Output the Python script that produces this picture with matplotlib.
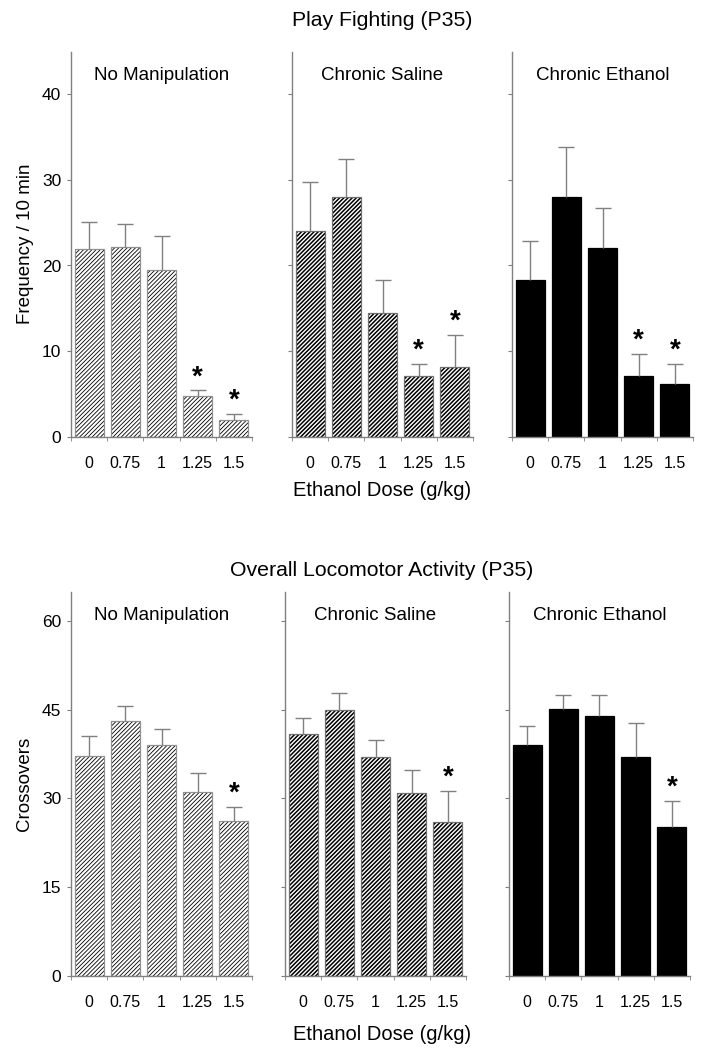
import numpy as np
import matplotlib
matplotlib.use('Agg')
import matplotlib.pyplot as plt

plt.rcParams['font.family'] = ['Liberation Sans', 'DejaVu Sans']

doses = ['0', '0.75', '1', '1.25', '1.5']
groups = ['No Manipulation', 'Chronic Saline', 'Chronic Ethanol']

# Play fighting (frequency / 10 min)
play_mean = [
    [21.9, 22.2, 19.5, 4.7, 2.0],
    [24.0, 28.0, 14.4, 7.1, 8.1],
    [18.3, 28.0, 22.1, 7.1, 6.2],
]
play_err = [
    [3.2, 2.7, 3.9, 0.7, 0.7],
    [5.8, 4.4, 3.9, 1.4, 3.8],
    [4.6, 5.9, 4.6, 2.6, 2.3],
]
play_sig = [
    [False, False, False, True, True],
    [False, False, False, True, True],
    [False, False, False, True, True],
]

# Locomotor activity (crossovers)
loco_mean = [
    [37.2, 43.1, 39.1, 31.1, 26.2],
    [40.9, 45.0, 37.1, 31.0, 26.1],
    [39.0, 45.1, 44.0, 37.1, 25.1],
]
loco_err = [
    [3.3, 2.6, 2.6, 3.2, 2.4],
    [2.7, 2.8, 2.8, 3.8, 5.2],
    [3.2, 2.4, 3.5, 5.7, 4.5],
]
loco_sig = [
    [False, False, False, False, True],
    [False, False, False, False, True],
    [False, False, False, False, True],
]

styles = [
    dict(color='white', hatch='////////', hatch_lw=0.6, edge='#909090'),
    dict(color='white', hatch='////////', hatch_lw=1.1, edge='#707070'),
    dict(color='black', hatch=None, hatch_lw=1.0, edge='black'),
]
gray = '#808080'

fig = plt.figure(figsize=(7.11, 10.5), dpi=100)


def draw_panel(ax, means, errs, sig, style, ylim, yticks, show_ylabels, title):
    x = np.arange(len(doses))
    means = np.array(means)
    errs = np.array(errs)
    plt.rcParams['hatch.linewidth'] = style['hatch_lw']
    plt.rcParams['hatch.color'] = 'black'
    hb = ax.bar(x, means, width=0.8, color=style['color'], hatch=style['hatch'],
                edgecolor='black', linewidth=0)
    for p in hb:
        if hasattr(p, 'set_hatch_linewidth'):
            p.set_hatch_linewidth(style['hatch_lw'])
    ax.bar(x, means, width=0.8, fill=False, edgecolor=style['edge'], linewidth=0.9)
    # upward error bars only
    ax.vlines(x, means, means + errs, color=gray, linewidth=1.0)
    ax.plot(x, means + errs, linestyle='none', marker='_', markersize=12,
            markeredgewidth=1.0, color=gray)
    for xi, m, e, s in zip(x, means, errs, sig):
        if s:
            ax.annotate('*', (xi, m + e), xytext=(0, 0), textcoords='offset points',
                        ha='center', va='bottom', fontsize=20, fontweight='bold')
    ax.set_xlim(-0.5, len(doses) - 0.5)
    ax.set_ylim(*ylim)
    ax.set_yticks(yticks)
    if not show_ylabels:
        ax.set_yticklabels([])
    ax.set_xticks(x)
    ax.set_xticklabels(doses)
    ax.set_xticks(np.arange(-0.5, len(doses)), minor=True)
    ax.tick_params(axis='x', which='major', length=0, labelsize=11.5, pad=14)
    ax.tick_params(axis='x', which='minor', length=3, color=gray, direction='out')
    ax.tick_params(axis='y', length=3, color=gray, labelsize=12.5, direction='out', pad=4)
    for sp in ['top', 'right']:
        ax.spines[sp].set_visible(False)
    for sp in ['left', 'bottom']:
        ax.spines[sp].set_color(gray)
        ax.spines[sp].set_linewidth(1.0)
    ax.text(0.5, 0.96, title, transform=ax.transAxes, ha='center', va='top', fontsize=13.5)


top_lefts = [71, 292, 512]
bot_lefts = [71, 285, 509]
W, H = 711, 1050
pw = 181

for i in range(3):
    ax = fig.add_axes([top_lefts[i] / W, 1 - 436.7 / H, pw / W, (436.7 - 51.5) / H])
    draw_panel(ax, play_mean[i], play_err[i], play_sig[i], styles[i],
               (0, 45), [0, 10, 20, 30, 40], i == 0, groups[i])
    if i == 0:
        ax.set_ylabel('Frequency / 10 min', fontsize=13.5, labelpad=6)

for i in range(3):
    ax = fig.add_axes([bot_lefts[i] / W, 1 - 975.7 / H, pw / W, (975.7 - 591.7) / H])
    draw_panel(ax, loco_mean[i], loco_err[i], loco_sig[i], styles[i],
               (0, 65), [0, 15, 30, 45, 60], i == 0, groups[i])
    if i == 0:
        ax.set_ylabel('Crossovers', fontsize=13.5, labelpad=6)

cx = 382 / W
fig.text(cx, 1 - 20 / H, 'Play Fighting (P35)', ha='center', va='center', fontsize=15.3)
fig.text(cx, 1 - 570 / H, 'Overall Locomotor Activity (P35)', ha='center', va='center', fontsize=15.3)
fig.text(cx, 1 - 491 / H, 'Ethanol Dose (g/kg)', ha='center', va='center', fontsize=14.5)
fig.text(cx, 1 - 1035 / H, 'Ethanol Dose (g/kg)', ha='center', va='center', fontsize=14.5)

fig.savefig('out.png', dpi=100)
